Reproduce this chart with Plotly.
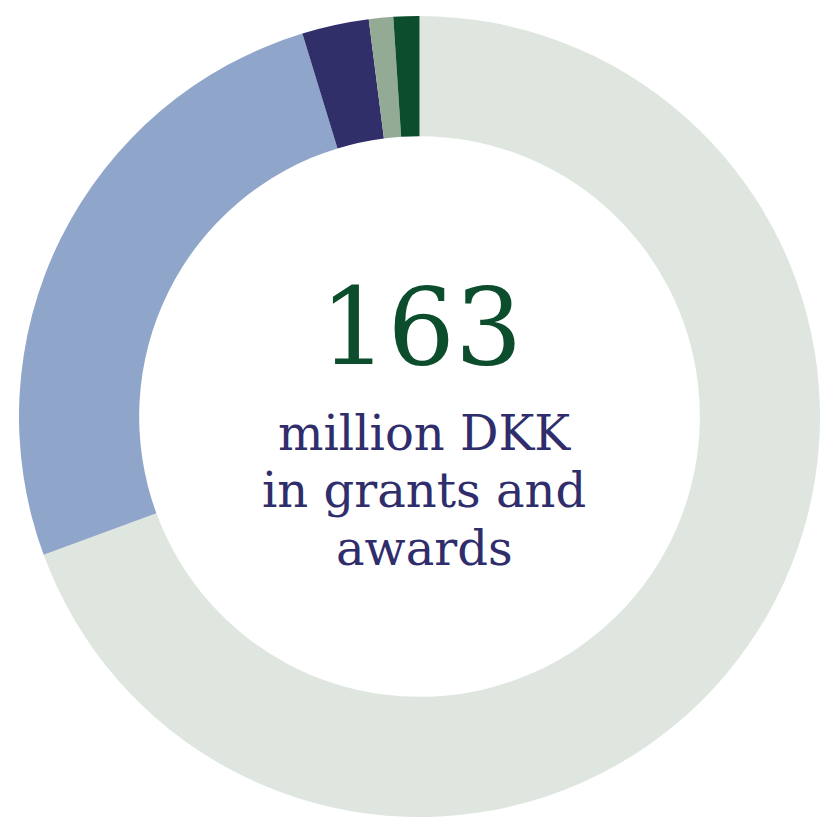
import plotly.graph_objects as go

# Data (million DKK)
categories = ["Category A", "Category B", "Category C", "Category D", "Category E"]
values = [113.1, 42.2, 4.4, 1.6, 1.7]
colors = ["#dfe6e0", "#8fa5c9", "#312f6a", "#93ab95", "#0b4d2d"]
total_label = "163"
sub_lines = ["million DKK", "in grants and", "awards"]

W, H = 820, 820

def px(x):
    return x / W

def py(y):
    return 1 - y / H

fig = go.Figure(
    go.Pie(
        labels=categories,
        values=values,
        marker=dict(colors=colors, line=dict(width=0)),
        hole=0.70,
        sort=False,
        direction="clockwise",
        rotation=0,
        textinfo="none",
        hoverinfo="label+value",
        showlegend=False,
        domain=dict(x=[px(19), px(820)], y=[py(818), py(15)]),
    )
)

serif = "DejaVu Serif"
annotations = [
    dict(text=total_label, x=px(421), y=py(327), xref="paper", yref="paper",
         xanchor="center", yanchor="middle", showarrow=False,
         font=dict(family=serif, size=106, color="#0b4d2d")),
]
baselines = [447, 504, 562]
for line, b in zip(sub_lines, baselines):
    annotations.append(
        dict(text=line, x=px(424), y=py(b - 14), xref="paper", yref="paper",
             xanchor="center", yanchor="middle", showarrow=False,
             font=dict(family=serif, size=48, color="#2f2d6b"))
    )

fig.update_layout(
    width=W,
    height=H,
    margin=dict(l=0, r=0, t=0, b=0),
    paper_bgcolor="white",
    plot_bgcolor="white",
    annotations=annotations,
)

fig.write_html(
    "out.html",
    config={"displayModeBar": False},
    post_script="document.body.style.margin='0';document.body.style.overflow='hidden';",
)
